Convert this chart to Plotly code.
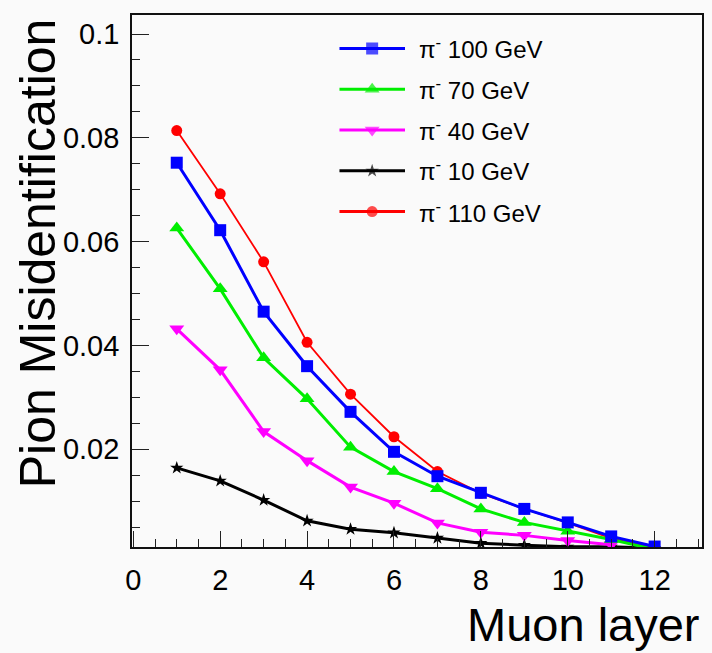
import plotly.graph_objects as go

layers = [1, 2, 3, 4, 5, 6, 7, 8, 9, 10, 11, 12]
pi100 = [0.0752, 0.0622, 0.0465, 0.0360, 0.0272, 0.0195, 0.0148, 0.0116, 0.0085, 0.0059, 0.0032, 0.00125]
pi70 = [0.0626, 0.0509, 0.0376, 0.0297, 0.0204, 0.0157, 0.0124, 0.0085, 0.0059, 0.0042, 0.0026, 0.0007]
pi40 = [0.0432, 0.0353, 0.0234, 0.0178, 0.0127, 0.0096, 0.0058, 0.0040, 0.0034, 0.0024, 0.0016]
pi10 = [0.0164, 0.0139, 0.0102, 0.0062, 0.0046, 0.0039, 0.0029, 0.0019, 0.0015, 0.0012, 0.0012, 0.0009]
pi110 = [0.0814, 0.0692, 0.0561, 0.0406, 0.0306, 0.0224, 0.0157, 0.0115, 0.0085, 0.0058, 0.0028, 0.0010]

series = [
    ("π<sup>-</sup> 100 GeV", pi100, "#0000ff", "square", 12, 3),
    ("π<sup>-</sup> 70 GeV", pi70, "#00ee00", "triangle-up", 13, 3),
    ("π<sup>-</sup> 40 GeV", pi40, "#ff00ff", "triangle-down", 13, 3),
    ("π<sup>-</sup> 10 GeV", pi10, "#000000", "star", 10, 3),
    ("π<sup>-</sup> 110 GeV", pi110, "#ff0000", "circle", 11, 1.8),
]
draw_order = [4, 3, 2, 1, 0]

FONT = "Liberation Sans, Arial, Helvetica, sans-serif"
fig = go.Figure()

for i in draw_order:
    name, vals, col, sym, ms, lw = series[i]
    fig.add_trace(go.Scatter(
        x=layers[:len(vals)], y=vals, mode="lines+markers", name=name,
        line=dict(color=col, width=lw),
        marker=dict(color=col, symbol=sym, size=ms, line=dict(width=0)),
        showlegend=False,
    ))

W, H = 712, 653
L, R, T, B = 132, 8, 15, 106
pw, ph = W - L - R, H - T - B

def px_to_xpaper(px):
    return (px - L) / pw

def px_to_ypaper(py):
    return (H - B - py) / ph

legend_rows = [48, 89, 129.5, 170.5, 211.5]

# custom legend drawn in its own hidden axes
for k, (name, vals, col, sym, ms, lw) in enumerate(series):
    fig.add_trace(go.Scatter(
        x=[0, 0.5, 1], y=[k, k, k], mode="lines+markers",
        line=dict(color=col, width=3 if lw < 3 else lw),
        marker=dict(color=col, symbol=sym, size=[0, ms, 0], line=dict(width=0)),
        xaxis="x2", yaxis="y2", showlegend=False, hoverinfo="skip",
    ))
    fig.add_annotation(
        x=px_to_xpaper(418), y=px_to_ypaper(legend_rows[k]), xref="paper", yref="paper",
        text=name, showarrow=False, xanchor="left", yanchor="middle",
        font=dict(family=FONT, size=24, color="#000000"),
    )

hidden = dict(showticklabels=False, showline=False, showgrid=False, zeroline=False,
              ticks="", fixedrange=True)

fig.update_layout(
    width=W, height=H,
    margin=dict(l=L, r=R, t=T, b=B, pad=0),
    paper_bgcolor="#fafafa", plot_bgcolor="#fafafa",
    font=dict(family=FONT, size=29, color="#000000"),
    xaxis=dict(
        range=[-0.03, 13.09], tickmode="linear", tick0=0, dtick=2,
        ticks="inside", ticklen=16, tickwidth=1.2, tickcolor="#222222",
        minor=dict(ticks="inside", ticklen=8, dtick=0.5, tick0=0, tickcolor="#222222", tickwidth=1.2),
        showline=True, linecolor="#111111", linewidth=1.6, mirror=True,
        showgrid=False, zeroline=False,
        tickfont=dict(family=FONT, size=29), ticklabelstandoff=6,
    ),
    yaxis=dict(
        range=[0.00116, 0.10366], tickmode="array",
        tickvals=[0.02, 0.04, 0.06, 0.08, 0.1],
        ticktext=["0.02", "0.04", "0.06", "0.08", "0.1"],
        ticks="inside", ticklen=17, tickwidth=1.2, tickcolor="#222222",
        minor=dict(ticks="inside", ticklen=8, dtick=0.005, tick0=0, tickcolor="#222222", tickwidth=1.2),
        showline=True, linecolor="#111111", linewidth=1.6, mirror=True,
        showgrid=False, zeroline=False,
        tickfont=dict(family=FONT, size=29), ticklabelstandoff=5,
    ),
    xaxis2=dict(domain=[px_to_xpaper(340), px_to_xpaper(406)], range=[0, 1],
                anchor="y2", **hidden),
    yaxis2=dict(domain=[px_to_ypaper(232), px_to_ypaper(28)], range=[4.5, -0.5],
                anchor="x2", **hidden),
    showlegend=False,
)

fig.add_annotation(
    x=1.0, xref="paper", y=px_to_ypaper(624), yref="paper",
    text="Muon layer", showarrow=False, xanchor="right", yanchor="middle",
    font=dict(family=FONT, size=47, color="#000000"),
)
fig.add_annotation(
    x=px_to_xpaper(38), xref="paper", y=px_to_ypaper(16), yref="paper",
    text="Pion Misidentification", showarrow=False, textangle=-90,
    xanchor="center", yanchor="top",
    font=dict(family=FONT, size=50, color="#000000"),
)

fig.write_html("out.html")
